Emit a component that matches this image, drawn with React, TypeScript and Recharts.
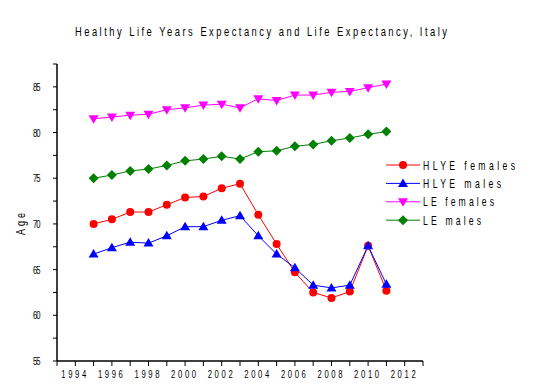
import React from 'react';
import { LineChart, Line, XAxis, YAxis } from 'recharts';

const years = [1995, 1996, 1997, 1998, 1999, 2000, 2001, 2002, 2003, 2004, 2005, 2006, 2007, 2008, 2009, 2010, 2011];
const hlyeFemales = [70.0, 70.5, 71.3, 71.3, 72.1, 72.9, 73.0, 73.9, 74.4, 71.0, 67.8, 64.7, 62.5, 61.9, 62.6, 67.6, 62.7];
const hlyeMales = [66.7, 67.4, 68.0, 67.9, 68.7, 69.7, 69.7, 70.4, 70.9, 68.7, 66.7, 65.2, 63.3, 63.0, 63.3, 67.6, 63.4];
const leFemales = [81.5, 81.7, 81.9, 82.0, 82.5, 82.7, 83.0, 83.1, 82.7, 83.7, 83.5, 84.1, 84.1, 84.4, 84.5, 84.9, 85.3];
const leMales = [75.0, 75.35, 75.8, 76.0, 76.4, 76.9, 77.1, 77.4, 77.1, 77.9, 78.0, 78.5, 78.7, 79.1, 79.4, 79.8, 80.1];

const xTicks = [1993, 1994, 1995, 1996, 1997, 1998, 1999, 2000, 2001, 2002, 2003, 2004, 2005, 2006, 2007, 2008, 2009, 2010, 2011, 2012, 2013];
const yTicks = [55, 57.5, 60, 62.5, 65, 67.5, 70, 72.5, 75, 77.5, 80, 82.5, 85, 87.5];

const data = years.map((year, i) => ({
  year,
  hlyeF: hlyeFemales[i],
  hlyeM: hlyeMales[i],
  leF: leFemales[i],
  leM: leMales[i],
}));

const FONT = '"Liberation Sans", Arial, sans-serif';

type MarkerKind = 'circle' | 'up' | 'down' | 'diamond';

const Marker = ({ kind, color, cx, cy }: { kind: MarkerKind; color: string; cx: number; cy: number }) => {
  if (kind === 'circle') return <circle cx={cx} cy={cy} r={4} fill={color} />;
  if (kind === 'up') {
    return <polygon points={`${cx},${cy - 5} ${cx + 5},${cy + 3.5} ${cx - 5},${cy + 3.5}`} fill={color} />;
  }
  if (kind === 'down') {
    return <polygon points={`${cx},${cy + 5} ${cx + 5},${cy - 3.5} ${cx - 5},${cy - 3.5}`} fill={color} />;
  }
  return <polygon points={`${cx},${cy - 5} ${cx + 5},${cy} ${cx},${cy + 5} ${cx - 5},${cy}`} fill={color} />;
};

const series = [
  { key: 'hlyeF', name: 'HLYE females', color: '#ff0000', kind: 'circle' as MarkerKind, width: 92 },
  { key: 'hlyeM', name: 'HLYE males', color: '#0000ff', kind: 'up' as MarkerKind, width: 78 },
  { key: 'leF', name: 'LE females', color: '#ff00ff', kind: 'down' as MarkerKind, width: 71 },
  { key: 'leM', name: 'LE males', color: '#008000', kind: 'diamond' as MarkerKind, width: 58 },
];

// condensed, letter-spaced text: squeeze glyphs horizontally, stretch spacing to a fixed width
const NarrowText = ({ x, y, w, size, sx = 0.7, children }: any) => (
  <text
    transform={`translate(${x},${y}) scale(${sx},1)`}
    textLength={w / sx}
    lengthAdjust="spacing"
    fontSize={size}
    fontFamily={FONT}
    fill="#000"
  >
    {children}
  </text>
);

const XTick = (props: any) => {
  const { x, payload } = props;
  if (payload.value % 2 !== 0) return null;
  return (
    <NarrowText x={x - 14} y={378} w={25} size={11}>
      {String(payload.value)}
    </NarrowText>
  );
};

const YTick = (props: any) => {
  const { y, payload } = props;
  if (payload.value % 5 !== 0) return null;
  return (
    <NarrowText x={33} y={y + 4} w={7.5} size={11}>
      {String(payload.value)}
    </NarrowText>
  );
};

export default function App() {
  return (
    <div style={{ position: 'absolute', left: 0, top: 0, width: 552, height: 385, background: '#fff' }}>
      <LineChart
        width={552}
        height={385}
        data={data}
        margin={{ top: 64, right: 129, bottom: 0, left: 0 }}
        style={{ position: 'absolute', left: 0, top: 0 }}
      >
        <XAxis
          dataKey="year"
          type="number"
          domain={[1993, 2013]}
          ticks={xTicks}
          interval={0}
          tick={<XTick />}
          tickSize={5}
          tickLine={{ stroke: '#000' }}
          axisLine={{ stroke: '#000', strokeWidth: 1.5 }}
          height={24}
        />
        <YAxis
          type="number"
          domain={[55, 87.5]}
          ticks={yTicks}
          interval={0}
          tick={<YTick />}
          tickSize={4}
          tickLine={{ stroke: '#000' }}
          axisLine={{ stroke: '#000', strokeWidth: 1.5 }}
          width={57}
        />
        {series.map((s) => (
          <Line
            key={s.key}
            dataKey={s.key}
            name={s.name}
            stroke={s.color}
            strokeWidth={1}
            isAnimationActive={false}
            dot={(p: any) => <Marker key={`${s.key}-${p.index}`} kind={s.kind} color={s.color} cx={p.cx} cy={p.cy} />}
            activeDot={false}
          />
        ))}
      </LineChart>
      <svg width={552} height={385} style={{ position: 'absolute', left: 0, top: 0, pointerEvents: 'none' }}>
        <NarrowText x={75} y={36} w={372} size={13} sx={0.72}>
          Healthy Life Years Expectancy and Life Expectancy, Italy
        </NarrowText>
        <g transform="translate(25,235) rotate(-90)">
          <NarrowText x={0} y={0} w={22} size={12} sx={0.75}>
            Age
          </NarrowText>
        </g>
        {series.map((s, i) => {
          const y = 165 + i * 18.4;
          return (
            <g key={s.key}>
              <line x1={386} x2={420} y1={y} y2={y} stroke={s.color} strokeWidth={1} />
              <Marker kind={s.kind} color={s.color} cx={403} cy={y} />
              <NarrowText x={423} y={y + 4.5} w={s.width} size={12} sx={0.72}>
                {s.name}
              </NarrowText>
            </g>
          );
        })}
      </svg>
    </div>
  );
}
